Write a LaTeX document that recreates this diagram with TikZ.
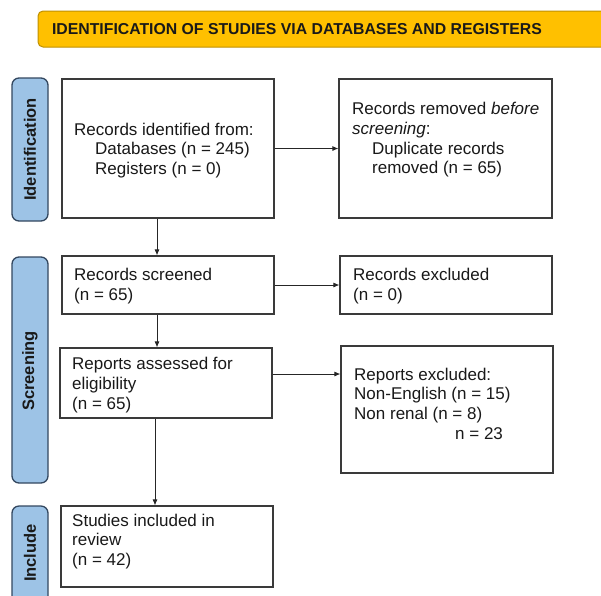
\documentclass[tikz,border=0pt]{standalone}
\usepackage{fontspec}
\setmainfont{Liberation Sans}
\usetikzlibrary{arrows.meta}
\definecolor{titlefill}{HTML}{FFC000}
\definecolor{titleline}{HTML}{BF9000}
\definecolor{phasefill}{HTML}{9DC3E6}
\definecolor{phaseline}{HTML}{33475F}
\definecolor{boxline}{HTML}{3A3A3A}
\begin{document}
\begin{tikzpicture}[x=1pt,y=-1pt,
  titlebox/.style={draw=titleline,fill=titlefill,line width=1pt,rounded corners=5pt},
  phase/.style={draw=phaseline,fill=phasefill,line width=1.3pt,rounded corners=7pt},
  phasetext/.style={rotate=90,font=\bfseries\fontsize{16.5}{18}\selectfont,text=black!90},
  flowbox/.style={draw=boxline,line width=1.2pt,fill=white},
  txt/.style={anchor=west,align=left,inner sep=0pt,font=\fontsize{17}{19.7}\selectfont,text=black!90},
  arr/.style={-{Latex[length=6pt,width=5pt]},line width=0.8pt,draw=black!85}]
\useasboundingbox (0,0) rectangle (601,595);
\begin{scope}
\clip (0,0) rectangle (601,595);
% title
\draw[titlebox] (38,11) rectangle (612,47);
\node[font=\bfseries\fontsize{15.8}{18}\selectfont,text=black!90] (title) at (297,29.5) {IDENTIFICATION OF STUDIES VIA DATABASES AND REGISTERS};
% phase labels
\draw[phase] (12,78) rectangle (48,221);
\node[phasetext] (pid) at (30,149.5) {Identification};
\draw[phase] (12,257) rectangle (48,483);
\node[phasetext] (psc) at (30,371) {Screening};
\draw[phase] (12,506) rectangle (48,610);
\node[phasetext] (pin) at (30,553) {Include};
\end{scope}
% boxes
\node[flowbox,minimum width=212pt,minimum height=139pt] (b1) at (168,148.5) {};
\node[flowbox,minimum width=213pt,minimum height=139pt] (b2) at (445.5,148.5) {};
\node[flowbox,minimum width=212pt,minimum height=58pt] (b3) at (168,285) {};
\node[flowbox,minimum width=212pt,minimum height=58pt] (b4x) at (446,285) {};
\node[flowbox,minimum width=212pt,minimum height=70pt] (b5) at (166,383) {};
\node[flowbox,minimum width=212pt,minimum height=127pt] (b6) at (447,409.5) {};
\node[flowbox,minimum width=212pt,minimum height=81pt] (b7) at (167,546.5) {};
% texts
\node[txt] (t1) at (74,150.5) {Records identified from:\\\hspace*{21pt}Databases (n = 245)\\\hspace*{21pt}Registers (n = 0)};
\node[txt] (t2) at (352,140) {Records removed \emph{before}\\\emph{screening}:\\\hspace*{20pt}Duplicate records\\\hspace*{20pt}removed (n = 65)};
\node[txt] (t3) at (74,286) {Records screened\\(n = 65)};
\node[txt] (t4) at (353,286) {Records excluded\\(n = 0)};
\node[txt] (t5) at (72,385) {Reports assessed for\\eligibility\\(n = 65)};
\node[txt] (t6) at (354,403.5) {Reports excluded:\\Non-English (n = 15)\\Non renal (n = 8)\\\hspace*{101pt}n = 23};
\node[txt] (t7) at (72,541.5) {Studies included in\\review\\(n = 42)};
% arrows
\coordinate (ax1) at (157,0);
\coordinate (ax2) at (155,0);
\coordinate (ay) at (0,374);
\draw[arr] (b1.east) -- (b2.west);
\draw[arr] (b3.east) -- (b4x.west);
\draw[arr] (b5.east |- ay) -- (b6.west |- ay);
\draw[arr] (b1.south -| ax1) -- (b3.north -| ax1);
\draw[arr] (b3.south -| ax1) -- (b5.north -| ax1);
\draw[arr] (b5.south -| ax2) -- (b7.north -| ax2);
\end{tikzpicture}
\end{document}
